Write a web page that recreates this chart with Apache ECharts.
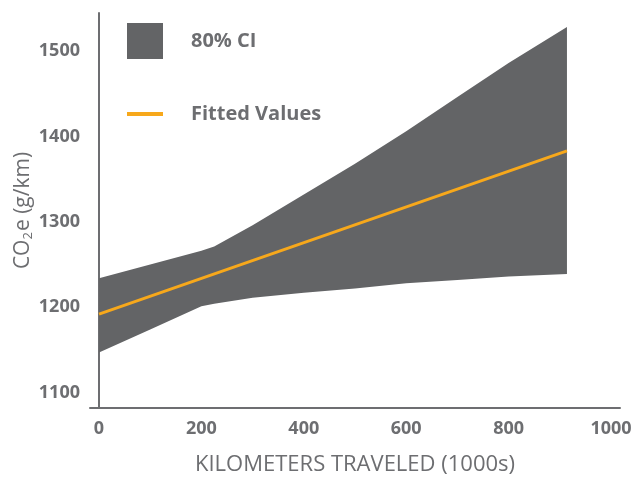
<!DOCTYPE html>
<html>
<head>
<meta charset="utf-8">
<script src="https://cdn.jsdelivr.net/npm/echarts@6/dist/echarts.min.js"></script>
<style>
html,body{margin:0;padding:0;background:#fff;}
#chart{width:642px;height:477px;}
</style>
</head>
<body>
<div id="chart"></div>
<script>
const xTicks = [0, 200, 400, 600, 800, 1000];
const yTicks = [1100, 1200, 1300, 1400, 1500];
const ciX = [0, 100, 200, 225, 300, 400, 500, 600, 700, 800, 914];
const ciLower = [1147, 1174, 1201, 1204, 1211, 1217, 1222, 1228, 1232, 1236, 1239];
const ciUpper = [1234, 1250, 1266, 1271, 1296, 1332, 1368, 1406, 1446, 1486, 1528];
const fitX = [0, 914];
const fitY = [1192, 1383];

const gray = '#6d6e71';
const bandColor = '#636466';
const orange = '#F7A81B';
const font = 'Open Sans';

const fitData = fitX.map((x, i) => [x, fitY[i]]);
const bandData = ciX.map((x, i) => [x, ciLower[i], ciUpper[i]]);

const chart = echarts.init(document.getElementById('chart'), null, {renderer: 'canvas'});
chart.setOption({
  animation: false,
  backgroundColor: '#fff',
  grid: {left: 90, right: 22, top: 13, bottom: 69, containLabel: false, outerBoundsMode: 'none'},
  legend: [
    {
      data: [{name: '80% CI', icon: 'rect'}],
      left: 127, top: 23, padding: 0,
      itemWidth: 36, itemHeight: 36,
      textStyle: {color: gray, fontFamily: font, fontWeight: 'bold', fontSize: 20, padding: [0, 0, 0, 23]},
      selectedMode: false
    },
    {
      data: [{name: 'Fitted Values', icon: 'rect'}],
      left: 127, top: 104, padding: 0,
      itemWidth: 36, itemHeight: 4,
      textStyle: {color: gray, fontFamily: font, fontWeight: 'bold', fontSize: 20, padding: [0, 0, 0, 23]},
      selectedMode: false
    }
  ],
  xAxis: {
    type: 'value',
    min: -17.6, max: 1017.6,
    name: 'KILOMETERS TRAVELED (1000s)',
    nameLocation: 'middle',
    nameGap: 46,
    nameMoveOverlap: false,
    nameTextStyle: {color: gray, fontFamily: font, fontSize: 22},
    axisLine: {show: true, lineStyle: {color: gray, width: 2}},
    axisTick: {show: false},
    splitLine: {show: false},
    axisLabel: {customValues: xTicks, formatter: v => String(v), color: gray, fontFamily: font, fontWeight: 'bold', fontSize: 18, margin: 12}
  },
  yAxis: {
    type: 'value',
    min: 1082, max: 1544.5,
    name: '{a|CO}{s|2}{a|e (g/km)}',
    nameLocation: 'middle',
    nameGap: 55,
    nameMoveOverlap: false,
    nameRotate: 90,
    nameTextStyle: {
      color: gray, fontFamily: font, fontSize: 21,
      rich: {
        a: {color: gray, fontFamily: font, fontSize: 21},
        s: {color: gray, fontFamily: font, fontSize: 13, padding: [10, 1, 0, 0]}
      }
    },
    axisLine: {show: true, lineStyle: {color: gray, width: 2}},
    axisTick: {show: false},
    splitLine: {show: false},
    axisLabel: {customValues: yTicks, formatter: v => String(v), color: gray, fontFamily: font, fontWeight: 'bold', fontSize: 18, margin: 10}
  },
  series: [
    {
      name: '80% CI',
      type: 'custom',
      data: bandData,
      encode: {x: 0, y: [1, 2]},
      itemStyle: {color: bandColor},
      silent: true,
      z: 1,
      renderItem: function (params, api) {
        if (params.dataIndex !== 0) return null;
        const upper = ciX.map((x, i) => api.coord([x, ciUpper[i]]));
        const lower = ciX.map((x, i) => api.coord([x, ciLower[i]])).reverse();
        return {
          type: 'polygon',
          shape: {points: upper.concat(lower)},
          style: {fill: bandColor}
        };
      }
    },
    {
      name: 'Fitted Values',
      type: 'line',
      data: fitData,
      symbol: 'none',
      itemStyle: {color: orange},
      lineStyle: {color: orange, width: 3},
      silent: true,
      z: 3
    }
  ]
});
</script>
</body>
</html>
